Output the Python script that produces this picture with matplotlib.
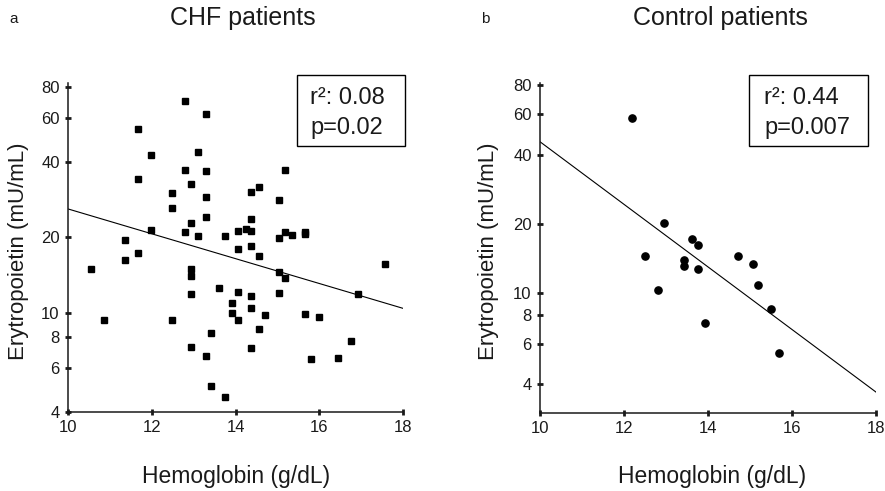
import numpy as np
import matplotlib
matplotlib.use('Agg')
from matplotlib import pyplot as plt
from matplotlib.patches import Rectangle

plt.rcParams['font.family'] = ['Liberation Sans', 'DejaVu Sans']
plt.rcParams['text.color'] = '#1a1a1a'

# CHF patients (hemoglobin g/dL, erythropoietin mU/mL)
chf_hb = [10.54, 10.86, 11.35, 11.35, 11.67, 11.67, 11.67, 11.99, 11.99, 12.48,
          12.48, 12.48, 12.79, 12.79, 12.79, 12.94, 12.94, 12.94, 12.94, 12.94,
          12.94, 13.11, 13.11, 13.29, 13.29, 13.29, 13.29, 13.29, 13.42, 13.42,
          13.60, 13.74, 13.74, 13.92, 13.92, 14.06, 14.06, 14.06, 14.06, 14.24,
          14.38, 14.38, 14.38, 14.38, 14.38, 14.38, 14.38, 14.55, 14.55, 14.55,
          14.70, 15.04, 15.04, 15.04, 15.04, 15.18, 15.18, 15.18, 15.36, 15.67,
          15.67, 15.67, 15.81, 15.99, 16.45, 16.76, 16.93, 17.58]
chf_epo = [14.9, 9.3, 19.6, 16.2, 54.2, 34.2, 17.3, 42.6, 21.4, 30.1,
           26.2, 9.35, 70.2, 37.2, 21.0, 32.7, 22.9, 14.9, 14.0, 11.9,
           7.3, 44.0, 20.2, 62.1, 36.8, 29.0, 24.1, 6.7, 8.3, 5.1,
           12.6, 20.2, 4.6, 10.9, 10.0, 21.2, 18.0, 12.1, 9.35, 21.7,
           30.5, 23.6, 21.2, 18.4, 11.7, 10.4, 7.2, 31.9, 16.8, 8.6,
           9.75, 28.2, 19.8, 14.6, 12.0, 37.2, 21.0, 13.7, 20.4, 21.1,
           20.7, 9.85, 6.5, 9.64, 6.6, 7.7, 11.9, 15.7]
chf_fit_x = [10, 18]
chf_fit_y = [26.0, 10.4]

# Control patients
ctl_hb = [12.18, 12.50, 12.82, 12.96, 13.44, 13.44, 13.62, 13.75, 13.75, 13.94,
          14.71, 15.06, 15.20, 15.51, 15.69]
ctl_epo = [57.8, 14.5, 10.3, 20.1, 13.9, 13.1, 17.2, 16.2, 12.7, 7.4,
           14.5, 13.4, 10.8, 8.5, 5.5]
ctl_fit_x = [10, 18]
ctl_fit_y = [45.5, 3.7]

x_ticks = [10, 12, 14, 16, 18]
y_ticks = [4, 6, 8, 10, 20, 40, 60, 80]

W, H = 885, 491
fig = plt.figure(figsize=(W / 100, H / 100), dpi=100)


def px(x0, y0, x1, y1):
    return [x0 / W, 1 - y1 / H, (x1 - x0) / W, (y1 - y0) / H]


def setup(ax, ylim):
    ax.set_yscale('log')
    ax.set_xlim(10, 18)
    ax.set_ylim(*ylim)
    ax.set_xticks(x_ticks)
    ax.set_xticklabels([str(t) for t in x_ticks])
    ax.set_yticks(y_ticks)
    ax.set_yticklabels([str(t) for t in y_ticks])
    ax.minorticks_off()
    for s in ['top', 'right']:
        ax.spines[s].set_visible(False)
    for s in ['left', 'bottom']:
        ax.spines[s].set_linewidth(1.1)
        ax.spines[s].set_color('#1a1a1a')
    ax.tick_params(direction='inout', length=4, width=2, labelsize=12, pad=4,
                   labelcolor='#1a1a1a', color='#1a1a1a')


ax1 = fig.add_axes(px(68, 83, 403, 412))
setup(ax1, (4, 83))
ax1.plot(chf_hb, chf_epo, 's', color='black', markersize=3.8, clip_on=False)
ax1.plot(chf_fit_x, chf_fit_y, color='black', lw=0.8)

ax2 = fig.add_axes(px(540, 83, 876, 413))
setup(ax2, (3, 82))
ax2.plot(ctl_hb, ctl_epo, 'o', color='black', markersize=5.2, clip_on=False)
ax2.plot(ctl_fit_x, ctl_fit_y, color='black', lw=0.8)

# stats boxes
for (x0, x1, tx, l1, l2) in [(297, 405, 310, 'r²: 0.08', 'p=0.02'),
                             (749, 868, 764, 'r²: 0.44', 'p=0.007')]:
    fig.add_artist(Rectangle((x0 / W, 1 - 146 / H), (x1 - x0) / W, 71 / H,
                             transform=fig.transFigure, fill=False,
                             edgecolor='black', lw=1.0))
    fig.text(tx / W, 1 - 98 / H, l1, fontsize=17, va='center', ha='left')
    fig.text(tx / W, 1 - 128 / H, l2, fontsize=17, va='center', ha='left')

# titles and panel letters
fig.text(14 / W, 1 - 19 / H, 'a', fontsize=11, ha='center', va='center')
fig.text(243 / W, 1 - 18 / H, 'CHF patients', fontsize=18, ha='center', va='center')
fig.text(485 / W, 1 - 19 / H, 'b', fontsize=11, ha='center', va='center')
fig.text(720 / W, 1 - 18 / H, 'Control patients', fontsize=18, ha='center', va='center')

# axis labels
for cx in [236, 712]:
    fig.text(cx / W, 1 - 476 / H, 'Hemoglobin (g/dL)', fontsize=16.5,
             ha='center', va='center')
for cx in [19, 489]:
    fig.text(cx / W, 1 - 251 / H, 'Erytropoietin (mU/mL)', fontsize=16,
             ha='center', va='center', rotation=90)

fig.savefig('out.png', dpi=100)
